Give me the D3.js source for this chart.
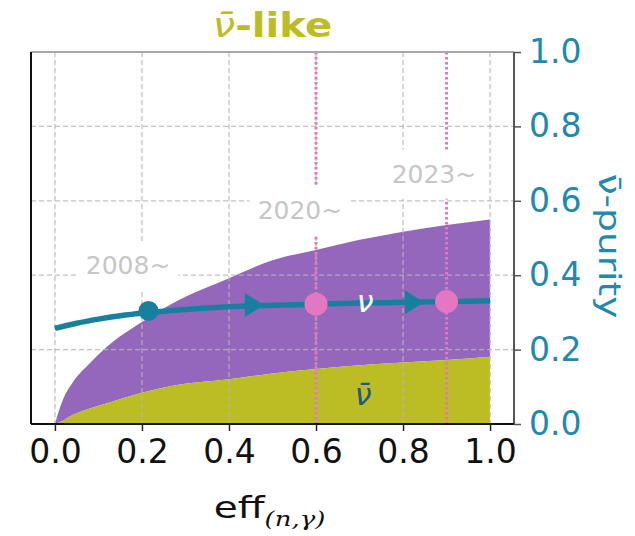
<!DOCTYPE html>
<html>
<head>
<meta charset="utf-8">
<script src="https://cdn.jsdelivr.net/npm/d3@7"></script>
<style>
  body { margin: 0; background: #fff; }
  svg { display: block; }
</style>
</head>
<body>
<div id="chart"></div>
<script>
// ---- data ----
const effGrid    = [0, 0.005, 0.02, 0.04, 0.08, 0.12, 0.2, 0.27, 0.4, 0.5, 0.6, 0.7, 0.8, 0.9, 1.0];
const purityAll  = [0, 0.02, 0.07, 0.11, 0.163, 0.208, 0.274, 0.324, 0.392, 0.44, 0.468, 0.495, 0.517, 0.535, 0.55];
const purityBar  = [0, 0.002, 0.01, 0.024, 0.042, 0.056, 0.084, 0.103, 0.12, 0.136, 0.148, 0.158, 0.165, 0.172, 0.181];

const lineEff    = [0, 0.05, 0.1, 0.15, 0.21, 0.3, 0.4, 0.5, 0.6, 0.7, 0.8, 0.9, 1.0];
const linePurity = [0.257, 0.271, 0.282, 0.291, 0.299, 0.308, 0.315, 0.319, 0.322, 0.325, 0.327, 0.329, 0.331];

const arrowEff    = [0.457, 0.825];
const arrowPurity = [0.320, 0.327];

const eraLabels = ['2008~', '2020~', '2023~'];
const eraLabelEff = [0.168, 0.563, 0.871];
const eraLabelPurity = [0.427, 0.575, 0.672];

const markerEff = [0.215, 0.6, 0.9];
const markerPurity = [0.304, 0.322, 0.329];
const markerKind = ['now', 'future', 'future'];

const vlineEff = [0.6, 0.9];

const xTicks = [0, 0.2, 0.4, 0.6, 0.8, 1.0];
const yTicks = [0, 0.2, 0.4, 0.6, 0.8, 1.0];

// ---- layout ----
const W = 635, H = 536;
const M = { top: 52, right: 121, bottom: 112, left: 31 };
const innerW = W - M.left - M.right, innerH = H - M.top - M.bottom;

const OLIVE = '#bcbd22', PURPLE = '#9467bd', PINK = '#e377c2';
const TEAL = '#17809f', TEAL_TXT = '#2089ad';
const FONT = 'DejaVu Sans';

const svg = d3.select('#chart').append('svg').attr('width', W).attr('height', H);
svg.append('rect').attr('width', W).attr('height', H).attr('fill', '#fff');
const g = svg.append('g').attr('transform', `translate(${M.left},${M.top})`);

const x = d3.scaleLinear().domain([-0.055, 1.055]).range([0, innerW]);
const y = d3.scaleLinear().domain([0, 1]).range([innerH, 0]);

const pts = effGrid.map((e, i) => ({ e, all: purityAll[i], bar: purityBar[i] }));

// purple band (nu contamination) between antinu and total
g.append('path').datum(pts)
  .attr('fill', PURPLE)
  .attr('d', d3.area().curve(d3.curveMonotoneX)
    .x(d => x(d.e)).y0(d => y(d.bar)).y1(d => y(d.all)));
// olive band (antinu)
g.append('path').datum(pts)
  .attr('fill', OLIVE)
  .attr('d', d3.area().curve(d3.curveMonotoneX)
    .x(d => x(d.e)).y0(y(0)).y1(d => y(d.bar)));

// grid
g.append('g').selectAll('line').data(xTicks).join('line')
  .attr('x1', d => x(d)).attr('x2', d => x(d)).attr('y1', 0).attr('y2', innerH)
  .attr('stroke', '#b8b8b8').attr('stroke-width', 1.3).attr('stroke-dasharray', '5 3').attr('opacity', 0.85);
g.append('g').selectAll('line').data(yTicks.filter(d => d > 0 && d < 1)).join('line')
  .attr('x1', 0).attr('x2', innerW).attr('y1', d => y(d)).attr('y2', d => y(d))
  .attr('stroke', '#b8b8b8').attr('stroke-width', 1.3).attr('stroke-dasharray', '5 3').attr('opacity', 0.85);

// pink dotted era lines
g.append('g').selectAll('line').data(vlineEff).join('line')
  .attr('x1', d => x(d)).attr('x2', d => x(d)).attr('y1', 0).attr('y2', innerH)
  .attr('stroke', PINK).attr('stroke-width', 3).attr('stroke-dasharray', '2.5 2.5');

// era labels with white boxes
eraLabels.forEach((t, i) => {
  const lg = g.append('g').attr('transform', `translate(${x(eraLabelEff[i])},${y(eraLabelPurity[i])})`);
  const txt = lg.append('text')
    .attr('text-anchor', 'middle').attr('dy', '0.35em')
    .attr('font-family', FONT).attr('font-size', 25).attr('fill', '#c6c6c6')
    .text(t);
  const bb = txt.node().getBBox();
  lg.insert('rect', 'text')
    .attr('x', bb.x - 8).attr('y', bb.y - 10)
    .attr('width', bb.width + 16).attr('height', bb.height + 20)
    .attr('fill', '#fff');
});

// purity trajectory
const lineData = lineEff.map((e, i) => ({ e, p: linePurity[i] }));
g.append('path').datum(lineData)
  .attr('fill', 'none').attr('stroke', TEAL).attr('stroke-width', 5.5)
  .attr('d', d3.line().curve(d3.curveMonotoneX).x(d => x(d.e)).y(d => y(d.p)));

// arrows
g.append('g').selectAll('path').data(arrowEff).join('path')
  .attr('transform', (d, i) => `translate(${x(d)},${y(arrowPurity[i])})`)
  .attr('d', 'M-9,-12 L10,0 L-9,12 Z')
  .attr('fill', TEAL);

// markers
g.append('g').selectAll('circle').data(markerEff).join('circle')
  .attr('cx', d => x(d)).attr('cy', (d, i) => y(markerPurity[i]))
  .attr('r', (d, i) => markerKind[i] === 'now' ? 10 : 11.5)
  .attr('fill', (d, i) => markerKind[i] === 'now' ? TEAL : PINK);

// in-plot labels
g.append('text')
  .attr('x', x(0.713)).attr('y', y(0.325)).attr('dy', '0.3em')
  .attr('text-anchor', 'middle')
  .attr('font-family', FONT).attr('font-style', 'italic').attr('font-size', 30)
  .attr('fill', '#fff').text('ν');
g.append('text')
  .attr('x', x(0.708)).attr('y', y(0.075)).attr('dy', '0.3em')
  .attr('text-anchor', 'middle')
  .attr('font-family', FONT).attr('font-style', 'italic').attr('font-size', 30)
  .attr('fill', '#1f5a85').text('ν\u0304');

// spines
g.append('line').attr('x1', 0).attr('x2', innerW).attr('y1', 0).attr('y2', 0)
  .attr('stroke', '#a8a8a8').attr('stroke-width', 2);
g.append('line').attr('x1', innerW).attr('x2', innerW).attr('y1', 0).attr('y2', innerH)
  .attr('stroke', '#555').attr('stroke-width', 2);
g.append('line').attr('x1', 0).attr('x2', 0).attr('y1', 0).attr('y2', innerH)
  .attr('stroke', '#111').attr('stroke-width', 2);
g.append('line').attr('x1', 0).attr('x2', innerW).attr('y1', innerH).attr('y2', innerH)
  .attr('stroke', '#111').attr('stroke-width', 2);

// axes
const xAxis = g.append('g').attr('transform', `translate(0,${innerH})`)
  .call(d3.axisBottom(x).tickValues(xTicks).tickFormat(d3.format('.1f')).tickSize(7).tickPadding(9));
xAxis.select('.domain').remove();
xAxis.selectAll('line').attr('stroke', '#222').attr('stroke-width', 1.5);
xAxis.selectAll('text').attr('font-family', FONT).attr('font-size', 33).attr('fill', '#111');

const yAxis = g.append('g').attr('transform', `translate(${innerW},0)`)
  .call(d3.axisRight(y).tickValues(yTicks).tickFormat(d3.format('.1f')).tickSize(7).tickPadding(8));
yAxis.select('.domain').remove();
yAxis.selectAll('line').attr('stroke', '#555').attr('stroke-width', 1.5);
yAxis.selectAll('text').attr('font-family', FONT).attr('font-size', 33).attr('fill', TEAL_TXT);

// title
const title = svg.append('text')
  .attr('transform', `translate(${M.left + innerW / 2},37) scale(1.18,1)`)
  .attr('text-anchor', 'middle')
  .attr('font-family', FONT).attr('font-size', 34).attr('fill', OLIVE);
title.append('tspan').attr('font-style', 'italic').text('ν\u0304');
title.append('tspan').attr('font-weight', 'bold').text('-like');

// x label
const xl = svg.append('text')
  .attr('transform', `translate(${M.left + innerW / 2 - 3},518) scale(1.3,1)`)
  .attr('text-anchor', 'middle')
  .attr('font-family', FONT).attr('font-size', 30).attr('fill', '#111');
xl.append('tspan').text('eff');
xl.append('tspan').attr('font-family', 'DejaVu Serif').attr('font-style', 'italic')
  .attr('font-size', 20).attr('dy', 8).text('(n,γ)');

// right y label
svg.append('text')
  .attr('transform', `translate(599,${M.top + innerH / 2 + 8}) rotate(90) scale(1.25,1)`)
  .attr('text-anchor', 'middle')
  .attr('font-family', FONT).attr('font-size', 30).attr('fill', TEAL_TXT)
  .text('ν\u0304-purity');
</script>
</body>
</html>
